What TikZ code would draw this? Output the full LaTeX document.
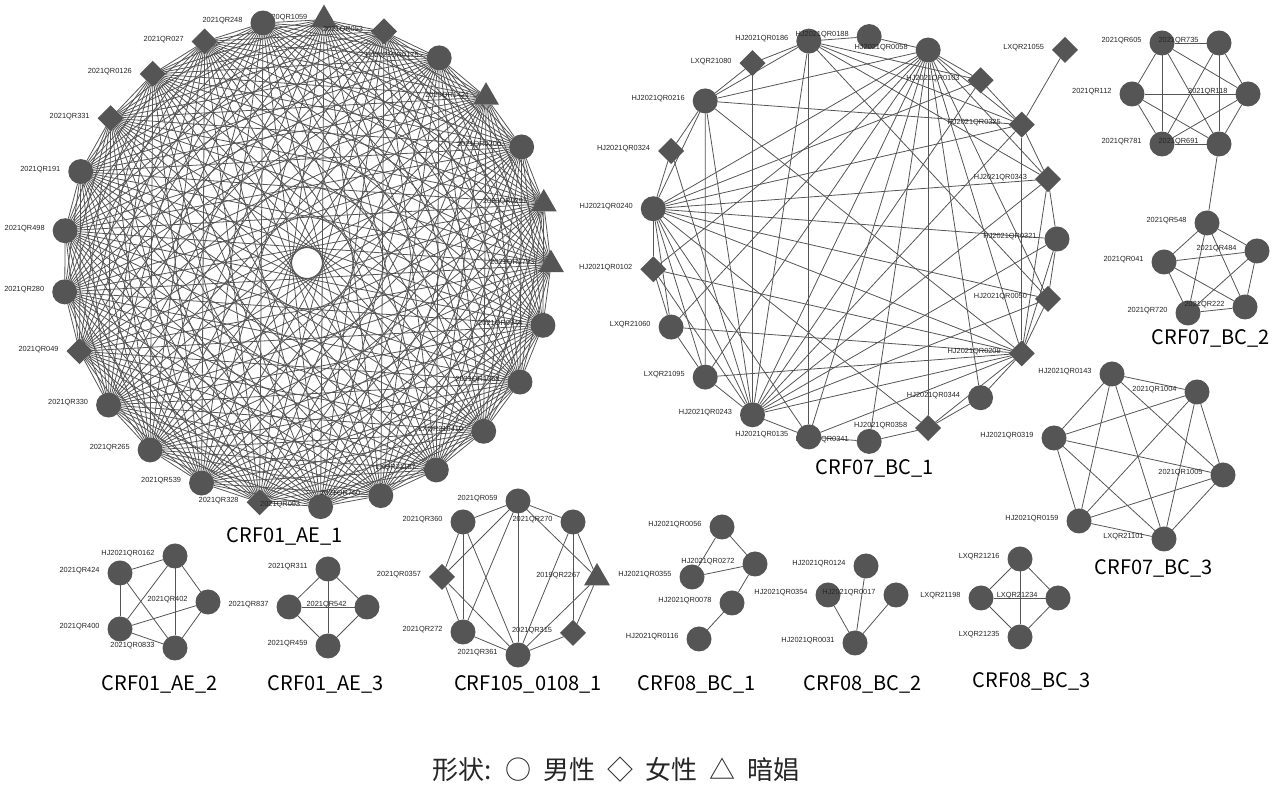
\documentclass[tikz,border=0pt]{standalone}
\usepackage{fontspec}
\setmainfont{Liberation Sans}
\newfontfamily\cjk{Noto Sans CJK SC}
\usetikzlibrary{calc, shapes, shapes.geometric, backgrounds}
\definecolor{nodegray}{HTML}{555555}
\definecolor{edgegray}{HTML}{555555}

\begin{document}
\begin{tikzpicture}[x=0.5pt, y=-0.5pt, line width=0.6pt,
        every node/.style = {inner sep=0pt, outer sep=0pt},
        man/.style = {circle, fill=nodegray, minimum size=12.5pt},
        woman/.style = {diamond, fill=nodegray, minimum size=13pt},
        fsw/.style = {regular polygon, regular polygon sides=3, fill=nodegray, minimum size=15pt},
        tag/.style = {font=\fontsize{3.7}{4}\selectfont, text=black!85, label distance=4pt, yshift=1pt},
        title/.style = {font=\cjk\fontsize{10}{12}\selectfont},
        link/.style = {draw=edgegray}]
    \useasboundingbox (0,0) rectangle (1282,785);

    % CRF01_AE_1
    \foreach \k/\s/\t in {0/fsw/2020QR1059, 1/man/2021QR248, 2/woman/2021QR027, 3/woman/2021QR0126,
            4/woman/2021QR331, 5/man/2021QR191, 6/man/2021QR498, 7/man/2021QR280, 8/woman/2021QR049,
            9/man/2021QR330, 10/man/2021QR265, 11/man/2021QR539, 12/woman/2021QR328, 13/man/2021QR093,
            14/man/2021QR760, 15/man/LXQR21187, 16/man/LXQR210410, 17/man/2021QR1368, 18/man/2021QR0944,
            19/fsw/2021QR1793, 20/fsw/2020QR0291, 21/man/2021QR0200, 22/fsw/2020QR1421,
            23/man/HJ2021QR0175, 24/woman/2021QR053}{
        \pgfmathsetmacro\px{307+244*cos(86+14.4*\k)}
        \pgfmathsetmacro\py{263-244*sin(86+14.4*\k)}
        \node[\s, label={[tag]left:\t}] (a\k) at (\px,\py) {};
    }
    \begin{scope}[on background layer]
        \foreach \i in {0,...,24}{
            \foreach \j in {0,...,24}{
                \ifnum\i<\j \draw[link] (a\i) -- (a\j); \fi
            }
        }
    \end{scope}
    \node[title] (t1) at (285,536) {CRF01\_AE\_1};

    % CRF07_BC_1
    \foreach \k/\s/\t in {0/man/HJ2021QR0321, 1/woman/HJ2021QR0050, 2/woman/HJ2021QR0209,
            3/man/HJ2021QR0344, 4/woman/HJ2021QR0358, 5/man/HJ2021QR0341, 6/man/HJ2021QR0135,
            7/man/HJ2021QR0243, 8/man/LXQR21095, 9/man/LXQR21060, 10/woman/HJ2021QR0102,
            11/man/HJ2021QR0240, 12/woman/HJ2021QR0324, 13/man/HJ2021QR0216, 14/woman/LXQR21080,
            15/man/HJ2021QR0186, 16/man/HJ2021QR0188, 17/man/HJ2021QR0058, 18/woman/HJ2021QR0103,
            19/woman/HJ2021QR0325, 20/woman/HJ2021QR0343}{
        \pgfmathsetmacro\px{854+203*cos(-17.142857*\k)}
        \pgfmathsetmacro\py{239-203*sin(-17.142857*\k)}
        \node[\s, label={[tag]left:\t}] (b\k) at (\px,\py) {};
    }
    \node[woman, label={[tag]left:LXQR21055}] (b21) at (1065,50) {};
    \begin{scope}[on background layer]
        \foreach \u/\v in {17/16, 17/18, 17/19, 17/20, 17/1, 17/2, 17/3, 17/4, 17/5, 17/6, 17/7, 17/8,
                17/9, 17/10, 17/11, 17/13, 2/1, 2/0, 2/20, 2/19, 2/13, 2/11, 2/10, 2/9, 2/8, 2/7, 2/3,
                2/4, 2/6, 7/8, 7/6, 7/10, 7/11, 7/12, 7/13, 7/14, 7/15, 7/18, 7/19, 7/20, 7/0, 7/1,
                11/13, 11/12, 11/10, 11/9, 11/8, 11/6, 11/4, 11/1, 11/0, 11/20, 11/19, 11/18, 15/16,
                15/14, 15/13, 15/6, 15/18, 15/19, 15/20, 15/1, 13/12, 13/8, 13/14, 13/19, 10/9, 9/8,
                6/5, 5/4, 4/3, 19/18, 19/20, 20/0, 0/1, 19/21}
            \draw[link] (b\u) -- (b\v);
    \end{scope}
    \node[title] (t2) at (875,468) {CRF07\_BC\_1};

    % CRF07_BC_2
    \node[man, label={[tag]left:2021QR605}] (p1) at (1162,43) {};
    \node[man, label={[tag]left:2021QR735}] (p2) at (1219,43) {};
    \node[man, label={[tag]left:2021QR112}] (p3) at (1132,94) {};
    \node[man, label={[tag]left:2021QR118}] (p4) at (1248,94) {};
    \node[man, label={[tag]left:2021QR781}] (p5) at (1162,144) {};
    \node[man, label={[tag]left:2021QR691}] (p6) at (1219,144) {};
    \node[man, label={[tag]left:2021QR548}] (q1) at (1207,223) {};
    \node[man, label={[tag]left:2021QR484}] (q2) at (1257,251) {};
    \node[man, label={[tag]left:2021QR041}] (q3) at (1164,262) {};
    \node[man, label={[tag]left:2021QR720}] (q4) at (1188,313) {};
    \node[man, label={[tag]left:2021QR222}] (q5) at (1245,307) {};
    \begin{scope}[on background layer]
        \foreach \u/\v in {p1/p2, p1/p3, p1/p4, p1/p5, p1/p6, p2/p4, p2/p5, p2/p6, p3/p4, p3/p5,
                p3/p6, p4/p5, p4/p6, p5/p6, p6/q1, q1/q2, q1/q3, q1/q4, q1/q5, q2/q3, q2/q4, q2/q5,
                q3/q4, q3/q5, q4/q5}
            \draw[link] (\u) -- (\v);
    \end{scope}
    \node[title] (t3) at (1211,338) {CRF07\_BC\_2};

    % CRF07_BC_3
    \node[man, label={[tag]left:HJ2021QR0143}] (r1) at (1112,374) {};
    \node[man, label={[tag]left:2021QR1004}] (r2) at (1197,392) {};
    \node[man, label={[tag]left:HJ2021QR0319}] (r3) at (1054,438) {};
    \node[man, label={[tag]left:2021QR1005}] (r4) at (1223,475) {};
    \node[man, label={[tag]left:HJ2021QR0159}] (r5) at (1079,521) {};
    \node[man, label={[tag]left:LXQR21101}] (r6) at (1164,539) {};
    \begin{scope}[on background layer]
        \foreach \i in {1,...,6}{
            \foreach \j in {1,...,6}{
                \ifnum\i<\j \draw[link] (r\i) -- (r\j); \fi
            }
        }
    \end{scope}
    \node[title] (t4) at (1154,568) {CRF07\_BC\_3};

    % CRF01_AE_2
    \node[man, label={[tag]left:HJ2021QR0162}] (c1) at (175,556) {};
    \node[man, label={[tag]left:2021QR424}] (c2) at (120,573) {};
    \node[man, label={[tag]left:2021QR402}] (c3) at (208,602) {};
    \node[man, label={[tag]left:2021QR400}] (c4) at (120,629) {};
    \node[man, label={[tag]left:2021QR0833}] (c5) at (175,648) {};
    \begin{scope}[on background layer]
        \foreach \u/\v in {c1/c2, c1/c3, c1/c4, c1/c5, c2/c4, c2/c5, c4/c3, c4/c5, c3/c5}
            \draw[link] (\u) -- (\v);
    \end{scope}
    \node[title] (t5) at (160,684) {CRF01\_AE\_2};

    % CRF01_AE_3
    \node[man, label={[tag]left:2021QR311}] (d1) at (328,569) {};
    \node[man, label={[tag]left:2021QR837}] (d2) at (289,607) {};
    \node[man, label={[tag]left:2021QR542}] (d3) at (367,607) {};
    \node[man, label={[tag]left:2021QR459}] (d4) at (328,646) {};
    \begin{scope}[on background layer]
        \foreach \u/\v in {d1/d2, d1/d3, d1/d4, d2/d3, d2/d4, d3/d4}
            \draw[link] (\u) -- (\v);
    \end{scope}
    \node[title] (t6) at (326,684) {CRF01\_AE\_3};

    % CRF105_0108_1
    \node[man, label={[tag]left:2021QR059}] (e1) at (518,501) {};
    \node[man, label={[tag]left:2021QR360}] (e2) at (463,522) {};
    \node[man, label={[tag]left:2021QR270}] (e3) at (573,522) {};
    \node[woman, label={[tag]left:2021QR0357}] (e4) at (442,577) {};
    \node[fsw, label={[tag]left:2019QR2267}] (e5) at (597,578) {};
    \node[man, label={[tag]left:2021QR272}] (e6) at (463,632) {};
    \node[woman, label={[tag]left:2021QR315}] (e7) at (573,633) {};
    \node[man, label={[tag]left:2021QR361}] (e8) at (518,655) {};
    \begin{scope}[on background layer]
        \foreach \u/\v in {e1/e2, e1/e3, e1/e4, e1/e5, e1/e6, e1/e8, e2/e4, e2/e6, e2/e8, e4/e6,
                e4/e8, e6/e8, e3/e8, e3/e7, e3/e5, e5/e7, e5/e8, e7/e8}
            \draw[link] (\u) -- (\v);
    \end{scope}
    \node[title] (t7) at (528,684) {CRF105\_0108\_1};

    % CRF08_BC_1
    \node[man, label={[tag]left:HJ2021QR0056}] (f1) at (722,527) {};
    \node[man, label={[tag]left:HJ2021QR0272}] (f2) at (755,564) {};
    \node[man, label={[tag]left:HJ2021QR0355}] (f3) at (692,577) {};
    \node[man, label={[tag]left:HJ2021QR0078}] (f4) at (732,603) {};
    \node[man, label={[tag]left:HJ2021QR0116}] (f5) at (699,639) {};
    \begin{scope}[on background layer]
        \foreach \u/\v in {f1/f2, f1/f3, f3/f2, f2/f4, f4/f5}
            \draw[link] (\u) -- (\v);
    \end{scope}
    \node[title] (t8) at (697,684) {CRF08\_BC\_1};

    % CRF08_BC_2
    \node[man, label={[tag]left:HJ2021QR0124}] (g1) at (866,566) {};
    \node[man, label={[tag]left:HJ2021QR0354}] (g2) at (828,595) {};
    \node[man, label={[tag]left:HJ2021QR0017}] (g3) at (896,595) {};
    \node[man, label={[tag]left:HJ2021QR0031}] (g4) at (855,643) {};
    \begin{scope}[on background layer]
        \foreach \u/\v in {g4/g1, g4/g2, g4/g3}
            \draw[link] (\u) -- (\v);
    \end{scope}
    \node[title] (t9) at (863,684) {CRF08\_BC\_2};

    % CRF08_BC_3
    \node[man, label={[tag]left:LXQR21216}] (h1) at (1020,559) {};
    \node[man, label={[tag]left:LXQR21198}] (h2) at (981,598) {};
    \node[man, label={[tag]left:LXQR21234}] (h3) at (1058,598) {};
    \node[man, label={[tag]left:LXQR21235}] (h4) at (1020,637) {};
    \begin{scope}[on background layer]
        \foreach \u/\v in {h1/h2, h1/h3, h1/h4, h2/h3, h2/h4, h3/h4}
            \draw[link] (\u) -- (\v);
    \end{scope}
    \node[title] (t10) at (1032,681) {CRF08\_BC\_3};

    \node[font=\cjk\fontsize{13}{15}\selectfont, text=black!85] (legend) at (616,770)
        {形状:\hspace{3pt} ○\hspace{3pt} 男性\hspace{3pt} ◇\hspace{3pt} 女性\hspace{3pt} △\hspace{3pt} 暗娼};
\end{tikzpicture}
\end{document}
